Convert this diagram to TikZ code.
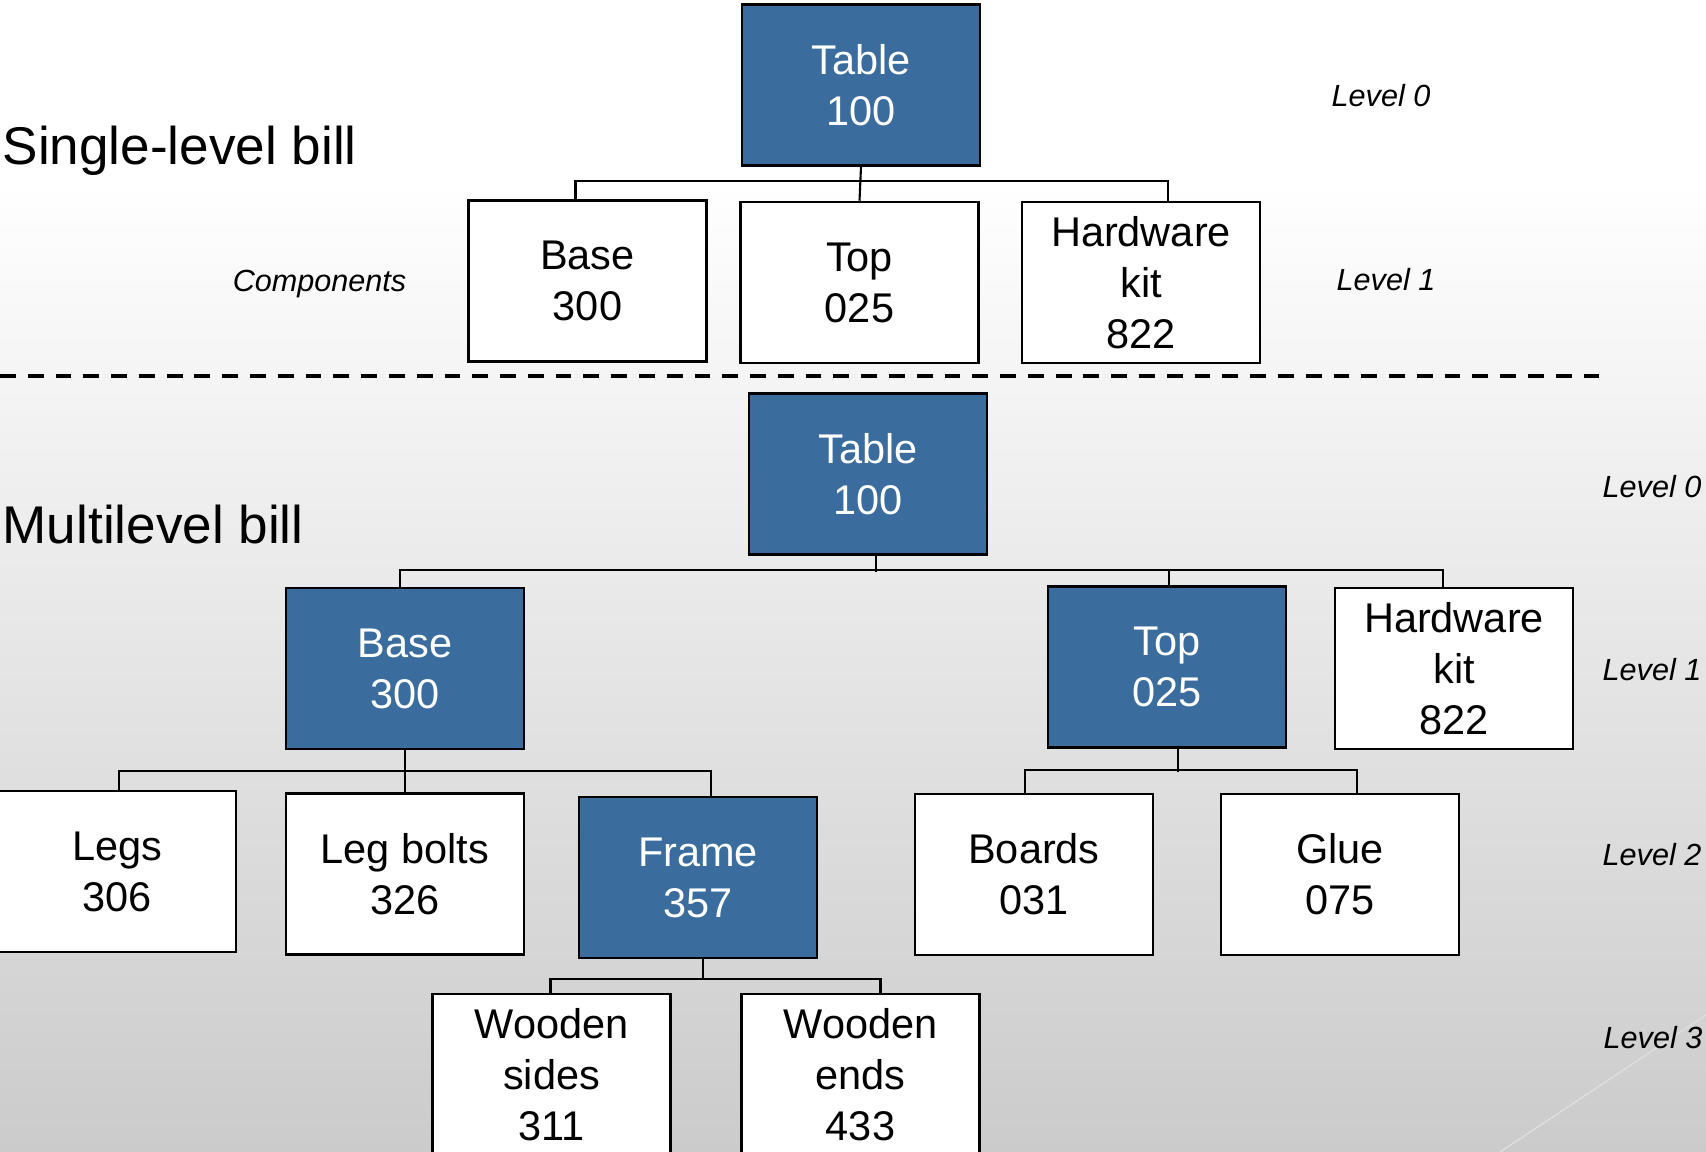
\documentclass[tikz,border=0pt]{standalone}
\usepackage{fontspec}
\setmainfont{Liberation Sans}
\usetikzlibrary{calc}
\definecolor{partblue}{RGB}{58,109,157}
\definecolor{bggray}{RGB}{203,203,203}
\definecolor{streak}{RGB}{222,222,222}

\begin{document}
\begin{tikzpicture}[x=0.01cm, y=-0.01cm,
    part/.style={draw=black, line width=0.7pt, fill=white, align=center,
        minimum width=2.38cm, minimum height=1.61cm, inner sep=0pt,
        font=\fontsize{11.8}{14.5}\selectfont},
    subpart/.style={part, fill=partblue, text=white},
    conn/.style={line width=0.6pt},
    lvl/.style={anchor=base west, inner sep=0pt, font=\fontsize{8.7}{10}\selectfont\itshape},
    title/.style={anchor=base west, inner sep=0pt, font=\fontsize{15.1}{18}\selectfont}]
                \useasboundingbox (0,0) rectangle (1706,1152);
                \fill[white] (0,0) rectangle (1706,181);
                \shade[top color=white, bottom color=bggray] (0,180) rectangle (1706,1152);
                \draw[streak, line width=0.4pt] (1500,1152) -- (1706,1015);

                \node[title] (single) at (2,165) {Single-level bill};
                \node[title] (multi) at (2,544) {Multilevel bill};
                \node[lvl, anchor=base east] (comp) at (407,292) {Components};

                \node[subpart] (t0) at (861,85) {Table\\100};
                \node[part] (t1) at (587.5,281) {Base\\300};
                \node[part] (t2) at (859.5,282.5) {Top\\025};
                \node[part] (t3) at (1141,282.5) {Hardware\\kit\\822};

                \draw[conn] (t0.south) -- (t2.north);
                \draw[conn] ($(t1.north)+(-12,0)$) -- ++(0,-18) -| ($(t3.north)+(27,0)$);

                \node[lvl] (top0) at (1331,107) {Level 0};
                \node[lvl] (top1) at (1336,291) {Level 1};

                \draw[line width=1pt, dash pattern=on 4.5pt off 3.4pt] (0,376) -- (1602,376);

                \node[subpart] (m0) at (868,474) {Table\\100};
                \node[subpart] (m1) at (405,668.5) {Base\\300};
                \node[subpart] (m2) at (1167,667) {Top\\025};
                \node[part] (m3) at (1454,668.5) {Hardware\\kit\\822};

                \node[part] (n1) at (117,871.5) {Legs\\306};
                \node[part] (n2) at (405,874) {Leg bolts\\326};
                \node[subpart] (n3) at (698,877.5) {Frame\\357};
                \node[part] (n4) at (1034,874.5) {Boards\\031};
                \node[part] (n5) at (1340,874.5) {Glue\\075};

                \node[part] (w1) at (551.5,1074.5) {Wooden\\sides\\311};
                \node[part] (w2) at (860.5,1074.5) {Wooden\\ends\\433};

                \draw[conn] ($(m0.south)+(8,0)$) -- ++(0,16);
                \draw[conn] ($(m1.north)+(-5,0)$) |- ($(m3.north)+(-11,-17)$) -- ($(m3.north)+(-11,0)$);
                \draw[conn] ($(m2.north)+(2,0)$) -- ++(0,-15);

                \draw[conn] (m1.south) -- (n2.north);
                \draw[conn] ($(n1.north)+(2,0)$) -- ++(0,-19) -| ($(n3.north)+(13,0)$);

                \draw[conn] ($(m2.south)+(11,0)$) -- ++(0,23);
                \draw[conn] ($(n4.north)+(-9,0)$) -- ++(0,-23) -| ($(n5.north)+(17,0)$);

                \draw[conn] ($(n3.south)+(5,0)$) -- ++(0,21);
                \draw[conn] ($(w1.north)+(-1,0)$) -- ++(0,-14) -| ($(w2.north)+(20,0)$);

                \node[lvl] (low0) at (1602,498) {Level 0};
                \node[lvl] (low1) at (1602,680) {Level 1};
                \node[lvl] (low2) at (1602,865) {Level 2};
                \node[lvl] (low3) at (1603,1048) {Level 3};
            \end{tikzpicture}
\end{document}
